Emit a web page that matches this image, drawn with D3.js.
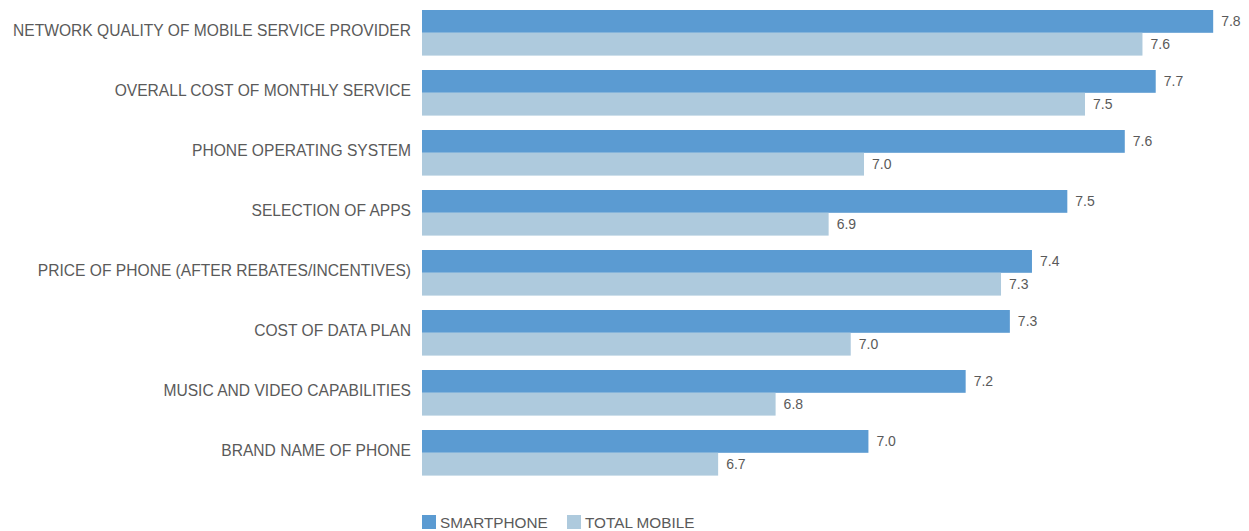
<!DOCTYPE html>
<html>
<head>
<meta charset="utf-8">
<script src="https://cdn.jsdelivr.net/npm/d3@7"></script>
<style>
  html, body { margin: 0; padding: 0; background: #fff; }
  svg { display: block; }
  text { font-family: "Liberation Sans", Arial, Helvetica, sans-serif; fill: #5a5a5a; }
</style>
</head>
<body>
<svg id="chart" width="1249" height="531"></svg>
<script>
const categories = [
  "NETWORK QUALITY OF MOBILE SERVICE PROVIDER",
  "OVERALL COST OF MONTHLY SERVICE",
  "PHONE OPERATING SYSTEM",
  "SELECTION OF APPS",
  "PRICE OF PHONE (AFTER REBATES/INCENTIVES)",
  "COST OF DATA PLAN",
  "MUSIC AND VIDEO CAPABILITIES",
  "BRAND NAME OF PHONE"
];
const smartphone = [7.79, 7.66, 7.59, 7.46, 7.38, 7.33, 7.23, 7.01];
const totalMobile = [7.63, 7.50, 7.00, 6.92, 7.31, 6.97, 6.80, 6.67];
const seriesNames = ["SMARTPHONE", "TOTAL MOBILE"];
const seriesColors = ["#5b9bd2", "#aecadd"];

const svg = d3.select("#chart");
const x = d3.scaleLinear().domain([6, 8]).range([422, 1306]);
const y = d3.scaleBand().domain(categories).range([2.8, 482.8]).paddingInner(0.24).paddingOuter(0.12);
const sub = d3.scaleBand().domain(seriesNames).range([0, y.bandwidth()]);
const fmt = d3.format(".1f");

const rows = categories.map((c, i) => ({ cat: c, vals: [smartphone[i], totalMobile[i]] }));

const g = svg.selectAll("g.row").data(rows).join("g")
  .attr("class", "row")
  .attr("transform", d => `translate(0,${y(d.cat)})`);

g.append("text")
  .attr("x", 411)
  .attr("y", 25.5)
  .attr("text-anchor", "end")
  .style("font-size", "15.6px")
  .text(d => d.cat);

g.selectAll("rect").data(d => d.vals.map((v, j) => ({ v, s: seriesNames[j], j }))).join("rect")
  .attr("x", x(6))
  .attr("y", d => sub(d.s))
  .attr("width", d => x(d.v) - x(6))
  .attr("height", sub.bandwidth())
  .attr("fill", d => seriesColors[d.j]);

g.selectAll("text.val").data(d => d.vals.map((v, j) => ({ v, s: seriesNames[j], j }))).join("text")
  .attr("class", "val")
  .attr("x", d => x(d.v) + 8)
  .attr("y", d => sub(d.s) + sub.bandwidth() / 2)
  .attr("dy", "0.36em")
  .style("font-size", "14px")
  .text(d => fmt(d.v));

// legend
const legend = svg.append("g").attr("transform", "translate(422,515)");
const legX = [0, 145];
seriesNames.forEach((n, i) => {
  legend.append("rect").attr("x", legX[i]).attr("y", 0).attr("width", 14).attr("height", 14).attr("fill", seriesColors[i]);
  legend.append("text").attr("x", legX[i] + 18).attr("y", 12.5).style("font-size", "15.3px").text(n);
});
</script>
</body>
</html>
